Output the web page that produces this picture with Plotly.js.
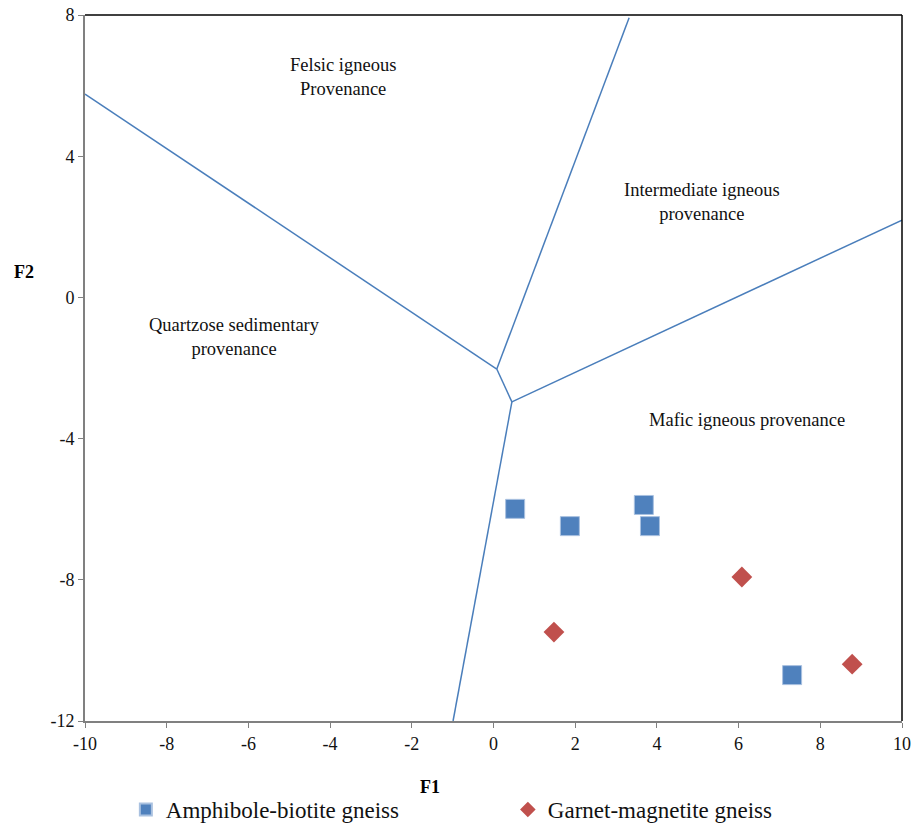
<!DOCTYPE html>
<html>
<head>
<meta charset="utf-8">
<script src="https://cdn.plot.ly/plotly-3.0.1.min.js"></script>
<style>html,body{margin:0;padding:0;background:#fff;}#chart{width:912px;height:826px;}</style>
</head>
<body>
<div id="chart"></div>
<script>
// Boundary lines (F1, F2)
const boundaryA_x = [-10, 0.08];   const boundaryA_y = [5.76, -2.03];
const boundaryB_x = [0.08, 3.32];  const boundaryB_y = [-2.03, 7.92];
const boundaryC_x = [0.08, 0.45];  const boundaryC_y = [-2.03, -2.96];
const boundaryD_x = [0.45, 10];    const boundaryD_y = [-2.96, 2.19];
const boundaryE_x = [0.45, -0.99]; const boundaryE_y = [-2.96, -12];

// Samples
const amphF1 = [0.53, 1.87, 3.68, 3.83, 7.31];
const amphF2 = [-5.99, -6.48, -5.88, -6.48, -10.70];
const garnF1 = [1.48, 6.08, 8.78];
const garnF2 = [-9.48, -7.92, -10.39];

const xTicks = [-10, -8, -6, -4, -2, 0, 2, 4, 6, 8, 10];
const yTicks = [-12, -8, -4, 0, 4, 8];

const regionLabels = [
  {text: 'Felsic igneous<br>Provenance', x: -3.68, y: 6.23},
  {text: 'Intermediate igneous<br>provenance', x: 5.10, y: 2.70},
  {text: 'Quartzose sedimentary<br>provenance', x: -6.35, y: -1.12},
  {text: 'Mafic igneous provenance', x: 6.21, y: -3.47}
];

const lineColor = '#4A7EBB';
const font = 'Liberation Serif, Times New Roman, serif';

const bx = [boundaryA_x, boundaryB_x, boundaryC_x, boundaryD_x, boundaryE_x];
const by = [boundaryA_y, boundaryB_y, boundaryC_y, boundaryD_y, boundaryE_y];
const traces = bx.map((xs, i) => ({
  x: xs, y: by[i], mode: 'lines', type: 'scatter',
  line: {color: lineColor, width: 1.5}, showlegend: false, hoverinfo: 'skip'
}));
traces.push({
  x: amphF1, y: amphF2, mode: 'markers', type: 'scatter', name: 'Amphibole-biotite gneiss',
  marker: {symbol: 'square', size: 19, color: '#4F81BD', line: {color: '#a9c1e0', width: 1}}
});
traces.push({
  x: garnF1, y: garnF2, mode: 'markers', type: 'scatter', name: 'Garnet-magnetite gneiss',
  marker: {symbol: 'diamond', size: 16, color: '#C0504D', line: {color: '#C0504D', width: 0}}
});

const annotations = regionLabels.map(r => ({
  x: r.x, y: r.y, xref: 'x', yref: 'y', text: r.text, showarrow: false,
  font: {family: font, size: 18.5, color: '#111'}, align: 'center'
}));
annotations.push({text: '<b>F1</b>', xref: 'paper', yref: 'paper', x: 0.422, y: -0.0935,
  xanchor: 'center', yanchor: 'middle',
  showarrow: false, font: {family: font, size: 18, color: '#000'}});
annotations.push({text: '<b>F2</b>', xref: 'paper', yref: 'paper', x: -0.0747, y: 0.636,
  xanchor: 'center', yanchor: 'middle',
  showarrow: false, font: {family: font, size: 18, color: '#000'}});

const layout = {
  width: 912, height: 826,
  margin: {l: 85, r: 10, t: 15, b: 105},
  paper_bgcolor: '#fff', plot_bgcolor: '#fff',
  font: {family: font, size: 18, color: '#111'},
  xaxis: {
    range: [-10, 10], tickvals: xTicks, ticktext: xTicks.map(String),
    showgrid: false, zeroline: false, showline: true, linecolor: '#808080', linewidth: 2,
    ticks: 'outside', ticklen: 5, tickcolor: '#808080', tickwidth: 1,
    tickfont: {family: font, size: 18, color: '#111'}, fixedrange: true, automargin: false
  },
  yaxis: {
    range: [-12, 8], tickvals: yTicks, ticktext: yTicks.map(String),
    showgrid: false, zeroline: false, showline: true, linecolor: '#808080', linewidth: 2,
    ticks: 'outside', ticklen: 5, tickcolor: '#808080', tickwidth: 1,
    tickfont: {family: font, size: 18, color: '#111'}, fixedrange: true, automargin: false
  },
  shapes: [
    {type: 'line', xref: 'paper', yref: 'paper', x0: 0, x1: 1, y0: 1, y1: 1, line: {color: '#000', width: 1.5}},
    {type: 'line', xref: 'paper', yref: 'paper', x0: 1, x1: 1, y0: 0, y1: 1, line: {color: '#000', width: 1.5}}
  ],
  annotations: annotations,
  showlegend: true,
  legend: {
    orientation: 'h', x: 0.05, xanchor: 'left', y: 0.046, yanchor: 'top', yref: 'container',
    font: {family: font, size: 23, color: '#111'}, entrywidth: 337, itemsizing: 'constant',
    tracegroupgap: 0
  }
};

Plotly.newPlot('chart', traces, layout, {displayModeBar: false, staticPlot: true});
</script>
</body>
</html>
